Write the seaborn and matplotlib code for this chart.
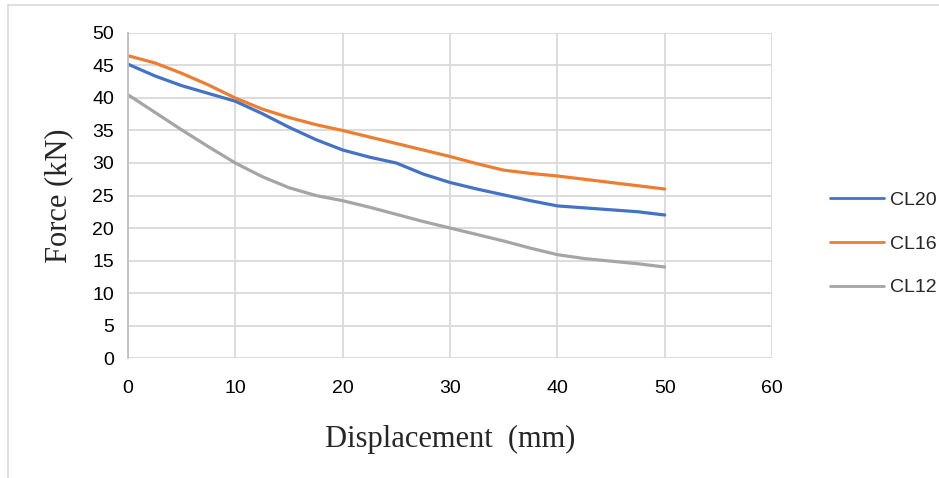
import pandas as pd
import matplotlib.pyplot as plt
import seaborn as sns
from matplotlib.lines import Line2D

# ******** values ********
displacement = [0, 2.5, 5, 7.5, 10, 12.5, 15, 17.5, 20, 22.5, 25,
                27.5, 30, 32.5, 35, 37.5, 40, 42.5, 45, 47.5, 50]
cl20 = [45.2, 43.4, 41.9, 40.7, 39.5, 37.6, 35.5, 33.6, 32.0, 30.9, 30.0,
        28.3, 27.0, 26.0, 25.1, 24.2, 23.4, 23.1, 22.8, 22.5, 22.0]
cl16 = [46.5, 45.4, 43.8, 42.0, 40.0, 38.3, 37.0, 35.9, 35.0, 34.0, 33.0,
        32.0, 31.0, 29.9, 28.9, 28.4, 28.0, 27.5, 27.0, 26.5, 26.0]
cl12 = [40.5, 37.8, 35.1, 32.5, 30.0, 27.9, 26.2, 25.0, 24.2, 23.2, 22.1,
        21.0, 20.0, 19.0, 18.0, 16.9, 15.9, 15.3, 14.9, 14.5, 14.0]
series_names = ["CL20", "CL16", "CL12"]
colors = ["#4472C4", "#ED7D31", "#A5A5A5"]

df = pd.DataFrame({"Displacement": displacement * 3,
                   "Force": cl20 + cl16 + cl12,
                   "Series": [s for s in series_names for _ in displacement]})

sns.set_style("white")
sans = ["Liberation Sans Narrow", "Liberation Sans", "DejaVu Sans"]
serif = ["Liberation Serif", "DejaVu Serif"]
plt.rcParams['font.family'] = sans

fig = plt.figure(figsize=(9.39, 4.78), dpi=100)
ax = fig.add_axes([0.1363, 0.251, 0.6859, 0.680])

sns.lineplot(data=df, x="Displacement", y="Force", hue="Series",
             palette=dict(zip(series_names, colors)), linewidth=2.3, ax=ax)

ax.set_xlim(0, 60)
ax.set_ylim(0, 50)
ax.set_xticks(range(0, 61, 10))
ax.set_yticks(range(0, 51, 5))
ax.grid(True, color="#D9D9D9", linewidth=1.3)
ax.set_axisbelow(True)
for side in ["top", "right", "bottom"]:
    ax.spines[side].set_visible(False)
ax.spines["left"].set_color("#BFBFBF")
ax.spines["left"].set_linewidth(1.3)
ax.tick_params(axis="both", length=0, labelsize=14, colors="#000000")
ax.tick_params(axis="x", pad=16)
ax.tick_params(axis="y", pad=10)

ax.set_xlabel("Displacement  (mm)", family=serif, fontsize=22, labelpad=20)
ax.set_ylabel("Force (kN)", family=serif, fontsize=22, labelpad=14)

leg = ax.legend(loc="center left", bbox_to_anchor=(0.865, 0.49),
                bbox_transform=fig.transFigure, frameon=False, fontsize=14,
                handlelength=2.8, handletextpad=0.3, labelspacing=1.35)
for line in leg.get_lines():
    line.set_linewidth(2.0)

# outer chart border (partly visible)
fig.add_artist(Line2D([8 / 939, 8 / 939], [0, 1 - 5 / 478], color="#D9D9D9", lw=1.2))
fig.add_artist(Line2D([8 / 939, 1], [1 - 5 / 478, 1 - 5 / 478], color="#D9D9D9", lw=1.2))

plt.savefig("out.png", dpi=100)
